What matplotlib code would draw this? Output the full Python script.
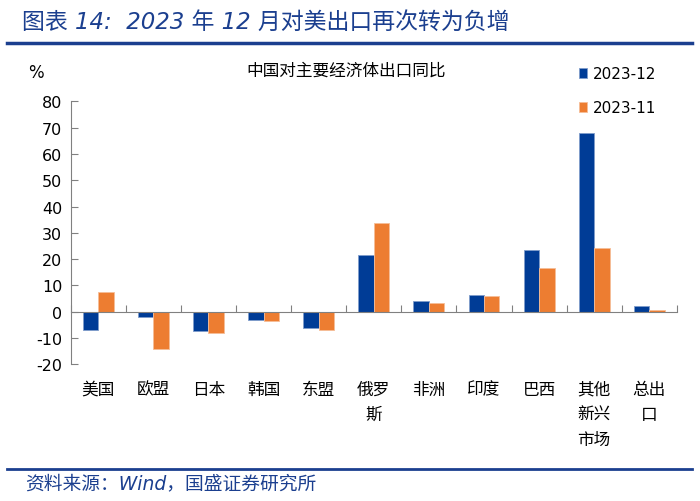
import matplotlib
matplotlib.use("Agg")
import matplotlib.pyplot as plt
import numpy as np
from matplotlib.lines import Line2D

plt.rcParams['font.family'] = ['DejaVu Sans', 'Noto Sans CJK SC']
plt.rcParams['axes.unicode_minus'] = False

categories = ["美国", "欧盟", "日本", "韩国", "东盟", "俄罗\n斯", "非洲", "印度", "巴西", "其他\n新兴\n市场", "总出\n口"]
dec_2023 = [-6.8, -1.9, -7.2, -3.0, -6.1, 21.7, 4.1, 6.3, 23.3, 68.1, 2.3]
nov_2023 = [7.4, -14.3, -8.2, -3.5, -7.1, 33.6, 3.2, 6.0, 16.7, 24.1, 0.6]
series_names = ["2023-12", "2023-11"]
yticks = list(range(-20, 81, 10))

BLUE = "#003C96"
ORANGE = "#ED7D31"
TITLE_BLUE = "#1B3F8F"
CJK = ['Noto Sans CJK SC', 'DejaVu Sans']
LATIN_FIRST = ['DejaVu Sans', 'Noto Sans CJK SC']

fig = plt.figure(figsize=(7.0, 5.02), dpi=100)
ax = fig.add_axes([0.101, 0.2723, 0.866, 0.5239])

x = np.arange(len(categories))
w = 0.28
ax.bar(x - w / 2, dec_2023, w, color=BLUE, edgecolor="#7F9CCB", linewidth=0.6, label=series_names[0])
ax.bar(x + w / 2, nov_2023, w, color=ORANGE, edgecolor="#F6BE98", linewidth=0.6, label=series_names[1])

ax.set_xlim(-0.5, len(categories) - 0.5)
ax.set_ylim(-20, 80)
ax.set_yticks(yticks)
ax.tick_params(axis='y', direction='in', length=5, color='#808080', labelsize=11.5, pad=6)
ax.spines['top'].set_visible(False)
ax.spines['right'].set_visible(False)
ax.spines['left'].set_color('#808080')
ax.spines['bottom'].set_color('#808080')
ax.spines['bottom'].set_position(('data', 0))
ax.set_xticks(np.arange(len(categories) + 1) - 0.5)
ax.set_xticklabels([])
ax.tick_params(axis='x', direction='in', length=5, color='#808080')

for xi, lab in zip(x, categories):
    ax.text(xi, -0.062, lab, transform=ax.get_xaxis_transform(), ha='center', va='top',
            fontsize=12, family=CJK, linespacing=1.62)

leg = ax.legend(loc='upper left', bbox_to_anchor=(0.818, 0.878), bbox_transform=fig.transFigure,
                frameon=False, fontsize=11, handlelength=0.55, handleheight=0.55,
                labelspacing=1.25, handletextpad=0.4, borderaxespad=0)

fig.text(346 / 700, 1 - 71 / 502, "中国对主要经济体出口同比", ha='center', va='center',
         fontsize=12, family=CJK)
fig.text(36 / 700, 1 - 73 / 502, "%", ha='center', va='center', fontsize=12)

fig.text(22 / 700, 1 - 22 / 502, "图表 14:  2023 年 12 月对美出口再次转为负增", ha='left', va='center',
         fontsize=16.5, family=LATIN_FIRST, color=TITLE_BLUE, style='italic')
fig.add_artist(Line2D([7 / 700, 692 / 700], [1 - 44 / 502, 1 - 44 / 502], transform=fig.transFigure,
                      color=TITLE_BLUE, linewidth=2.5))
fig.add_artist(Line2D([7 / 700, 692 / 700], [1 - 470 / 502, 1 - 470 / 502], transform=fig.transFigure,
                      color=TITLE_BLUE, linewidth=2.0))
fig.text(25 / 700, 1 - 484 / 502, "资料来源：Wind，国盛证券研究所", ha='left', va='center',
         fontsize=13.5, family=LATIN_FIRST, color=TITLE_BLUE, style='italic')

fig.savefig("out.png", dpi=100)
